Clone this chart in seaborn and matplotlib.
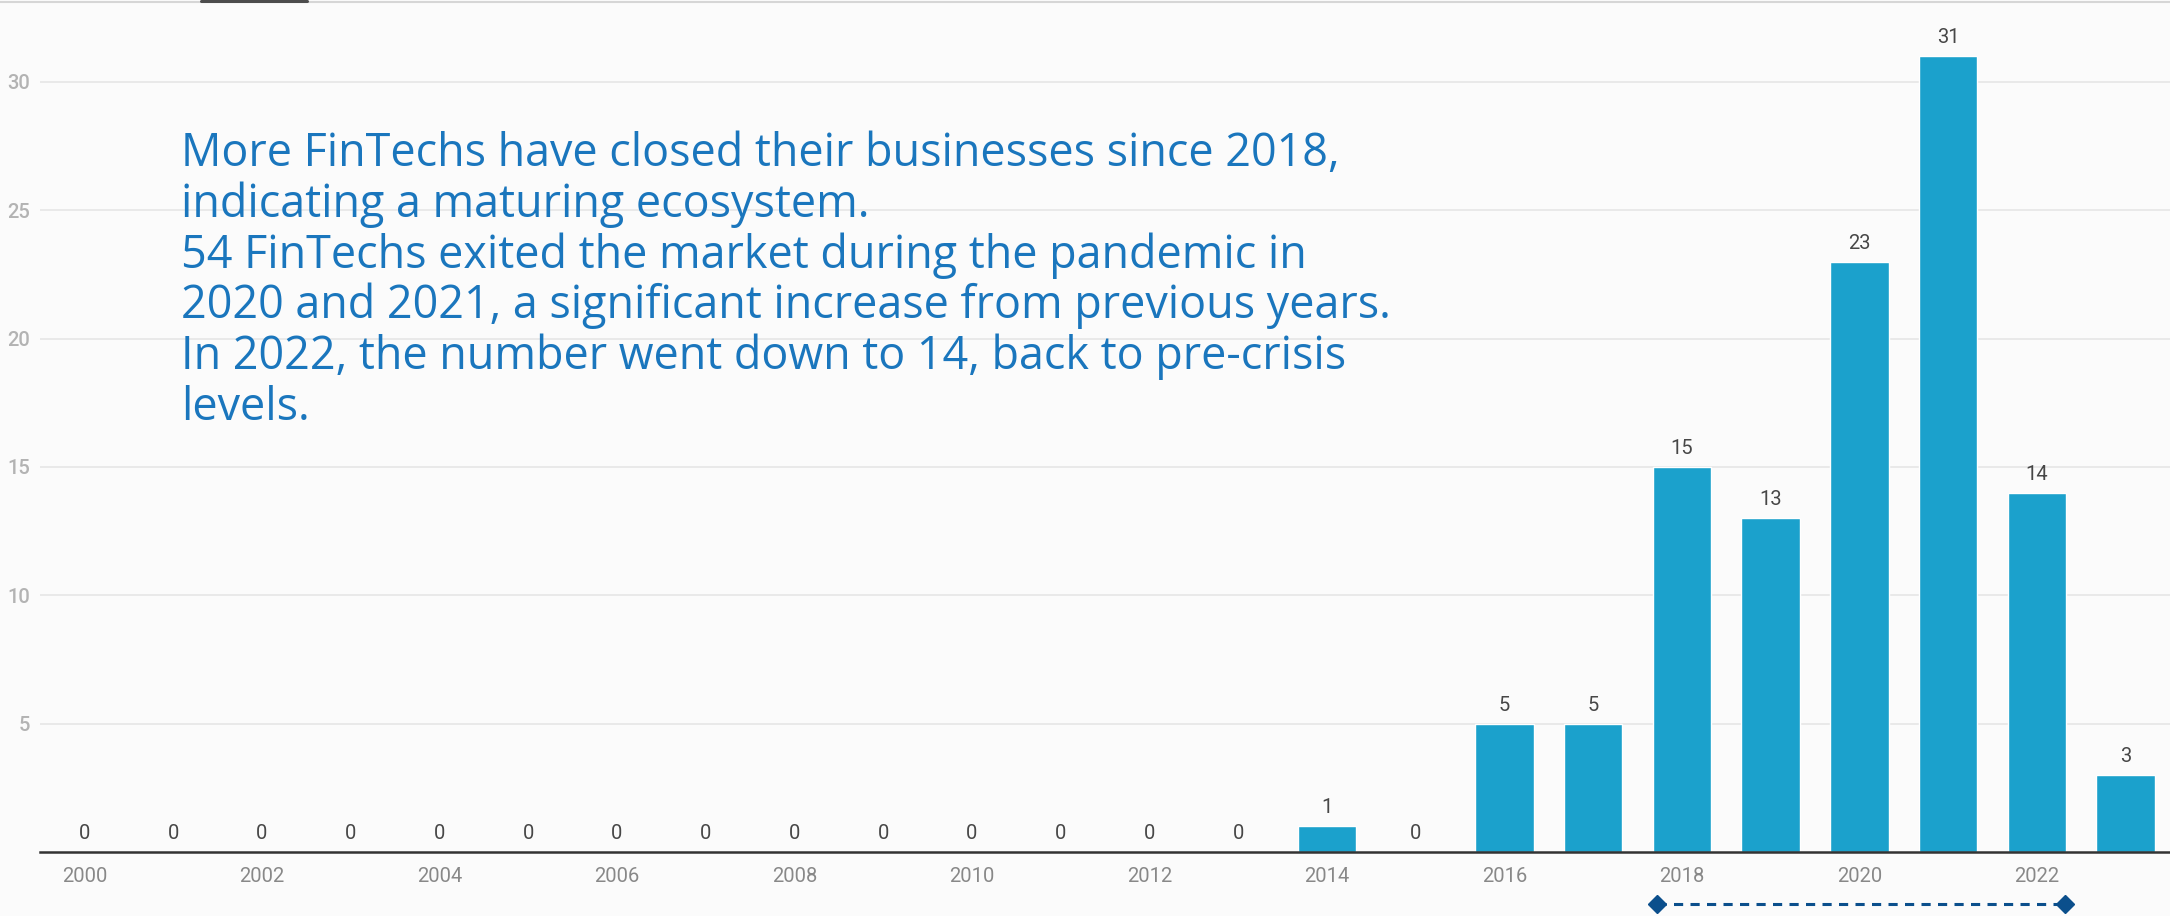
import matplotlib
matplotlib.use("Agg")
import matplotlib.pyplot as plt
import matplotlib.transforms as mtransforms
from matplotlib.lines import Line2D
import seaborn as sns
import pandas as pd

# ---- data -------------------------------------------------------------
years = list(range(2000, 2024))
exits = [0, 0, 0, 0, 0, 0, 0, 0, 0, 0, 0, 0, 0, 0, 1, 0, 5, 5, 15, 13, 23, 31, 14, 3]
tick_years = years[::2]
y_ticks = [5, 10, 15, 20, 25, 30]
note_lines = [
    "More FinTechs have closed their businesses since 2018,",
    "indicating a maturing ecosystem.",
    "54 FinTechs exited the market during the pandemic in",
    "2020 and 2021, a significant increase from previous years.",
    "In 2022, the number went down to 14, back to pre-crisis",
    "levels.",
]
range_years = (2018, 2022)

# ---- style ------------------------------------------------------------
W, H, DPI = 2170, 916, 100
BG = "#fbfbfb"
BAR = "#1ba1cc"
NOTE = "#1a76bd"
RANGE = "#0b4f8c"

sns.set_theme(style="white")
plt.rcParams["font.family"] = ["Roboto", "DejaVu Sans"]

fig = plt.figure(figsize=(W / DPI, H / DPI), dpi=DPI, facecolor=BG)
base_px = 852
ax = fig.add_axes([40 / W, (H - base_px) / H, (W - 40) / W, base_px / H])
ax.set_facecolor(BG)

df = pd.DataFrame({"year": [str(y) for y in years], "exits": exits})
sns.barplot(data=df, x="year", y="exits", order=[str(y) for y in years],
            color=BAR, saturation=1, width=0.66, errorbar=None, ax=ax,
            zorder=2)

ax.set_xlim(-0.5, len(years) - 0.5)
ax.set_ylim(0, base_px / 25.67)

# gridlines
ax.set_yticks(y_ticks)
ax.set_yticklabels([str(v) for v in y_ticks], color="#b3b3b3",
                   fontsize=14.5, fontweight="medium")
ax.yaxis.grid(True, color="#e6e6e6", lw=1.2)
ax.set_axisbelow(True)
ax.tick_params(axis="y", length=0, pad=7)

# x ticks every other year
ax.set_xticks([years.index(y) for y in tick_years])
ax.set_xticklabels([str(y) for y in tick_years], color="#888888", fontsize=14.5)
ax.tick_params(axis="x", length=0, pad=11)
ax.set_xlabel("")
ax.set_ylabel("")

for side in ("top", "right", "left"):
    ax.spines[side].set_visible(False)
ax.spines["bottom"].set_color("#333333")
ax.spines["bottom"].set_linewidth(1.8)
ax.spines["bottom"].set_zorder(3)

# value labels above bars
ax.bar_label(ax.containers[0], labels=[str(v) for v in exits], padding=6.5,
             color="#474747", fontsize=14.5)

# commentary block, sized so the widest line spans ~1210 px
renderer = fig.canvas.get_renderer()
note_font = ["Open Sans", "DejaVu Sans"]
probe = fig.text(0, 0, max(note_lines, key=len), fontsize=30, family=note_font)
w_px = probe.get_window_extent(renderer).width
probe.remove()
note_size = 30 * 1211 / w_px
first_baseline, line_step = 166, 50.8
for i, line in enumerate(note_lines):
    fig.text(181 / W, 1 - (first_baseline + i * line_step) / H, line,
             fontsize=note_size, family=note_font, color=NOTE,
             va="baseline", ha="left")

# thin frame line along the top edge with a dark tab marker
fig.add_artist(Line2D([0, 1], [1 - 2 / H] * 2, transform=fig.transFigure,
                      color="#d6d6d6", lw=1.5))
fig.add_artist(Line2D([201 / W, 307 / W], [1 - 1 / H] * 2,
                      transform=fig.transFigure, color="#4d4d4d", lw=2.2))

# highlighted period below the axis
trans = mtransforms.blended_transform_factory(ax.transData, fig.transFigure)
x0 = years.index(range_years[0]) - 0.28
x1 = years.index(range_years[1]) + 0.32
y_r = 1 - 904 / H
ax.plot([x0, x1], [y_r, y_r], transform=trans, clip_on=False, color=RANGE,
        lw=2.2, dashes=(3, 2.4))
ax.plot([x0, x1], [y_r, y_r], transform=trans, clip_on=False, color=RANGE,
        ls="none", marker="D", markersize=9)

fig.savefig("out.png", dpi=DPI, facecolor=BG)
